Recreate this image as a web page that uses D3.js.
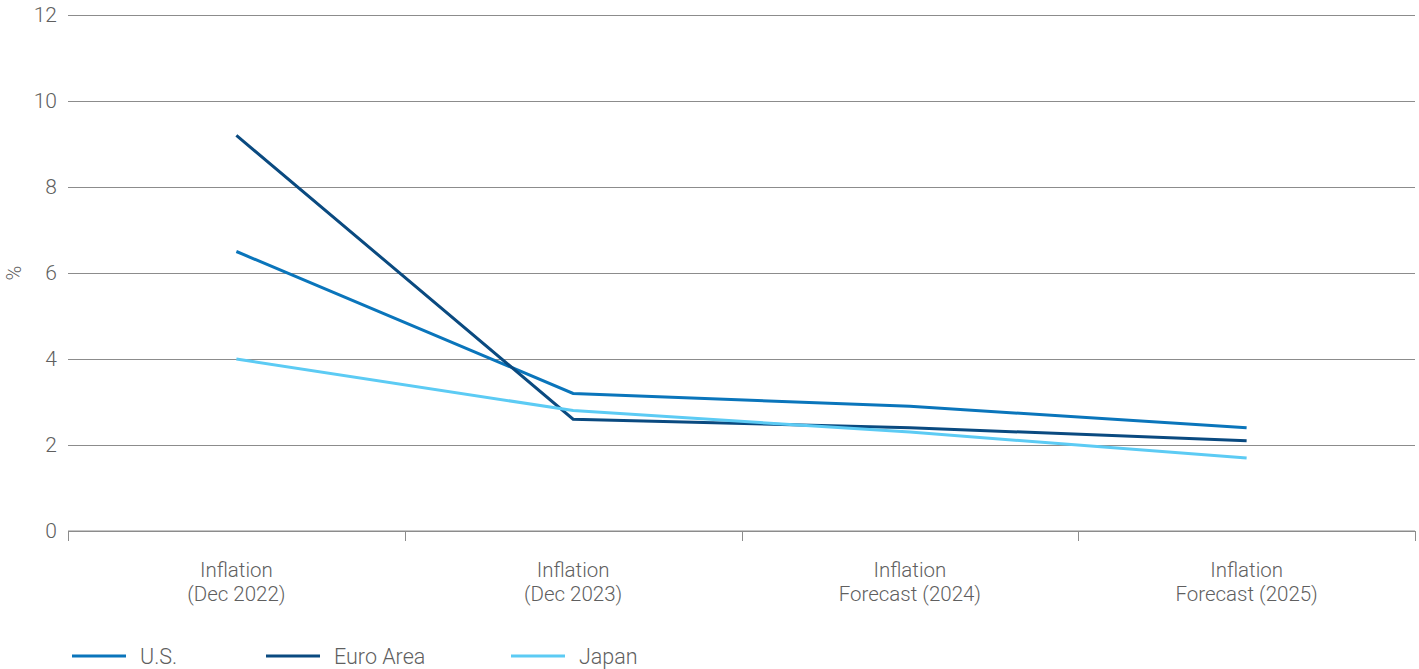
<!DOCTYPE html>
<html>
<head>
<meta charset="utf-8">
<script src="https://cdn.jsdelivr.net/npm/d3@7"></script>
<style>
  html, body { margin: 0; padding: 0; background: #fff; }
  svg { display: block; font-family: Roboto, "Noto Sans", sans-serif; font-weight: 300; }
</style>
</head>
<body>
<svg id="chart" width="1419" height="669"></svg>
<script>
// Categories (two-line labels) and inflation series, in %
const categories = [
  ["Inflation", "(Dec 2022)"],
  ["Inflation", "(Dec 2023)"],
  ["Inflation", "Forecast (2024)"],
  ["Inflation", "Forecast (2025)"]
];
const usValues = [6.5, 3.2, 2.9, 2.4];
const euroValues = [9.2, 2.6, 2.4, 2.1];
const japanValues = [4.0, 2.8, 2.3, 1.7];
const seriesNames = ["U.S.", "Euro Area", "Japan"];
const seriesColors = ["#0a75bb", "#0a4a80", "#5ccbf4"];
const yTicks = [0, 2, 4, 6, 8, 10, 12];

const series = [usValues, euroValues, japanValues].map((values, i) => ({
  name: seriesNames[i], color: seriesColors[i], values
}));

const svg = d3.select("#chart");
const margin = { left: 68, right: 4, top: 15, bottom: 138 };
const width = 1419, height = 669;

const x = d3.scaleBand()
  .domain(categories.map((c, i) => i))
  .range([margin.left, width - margin.right]);
const y = d3.scaleLinear()
  .domain([0, 12])
  .range([height - margin.bottom, margin.top]);

const textColor = "#5f5f5f";
const gridColor = "#8c8c8c";

// Horizontal gridlines with value labels
const yAxis = svg.append("g")
  .attr("transform", `translate(${margin.left},0)`)
  .call(d3.axisLeft(y).tickValues(yTicks).tickSize(-(width - margin.right - margin.left)).tickPadding(11));
yAxis.select(".domain").remove();
yAxis.selectAll(".tick line").attr("stroke", gridColor).attr("stroke-width", 1);
yAxis.selectAll(".tick text")
  .attr("fill", textColor)
  .style("font-size", "21px")
  .style("font-family", "Roboto, sans-serif")
  .style("font-weight", 300);

// Category axis along zero with boundary ticks
const x0 = y(0);
svg.append("line")
  .attr("x1", margin.left).attr("x2", width - margin.right)
  .attr("y1", x0).attr("y2", x0)
  .attr("stroke", gridColor);
const boundaries = x.domain().map(d => x(d)).concat([x.range()[1]]);
svg.selectAll(".xtick").data(boundaries).join("line")
  .attr("class", "xtick")
  .attr("x1", d => Math.round(d) + 0.5).attr("x2", d => Math.round(d) + 0.5)
  .attr("y1", x0).attr("y2", x0 + 10)
  .attr("stroke", gridColor);

const catLabels = svg.selectAll(".cat").data(categories).join("text")
  .attr("class", "cat")
  .attr("text-anchor", "middle")
  .attr("fill", textColor)
  .style("font-size", "20.5px");
catLabels.each(function(lines, i) {
  const t = d3.select(this);
  lines.forEach((ln, j) => {
    t.append("tspan")
      .attr("x", x(i) + x.bandwidth() / 2)
      .attr("y", 577 + j * 24)
      .text(ln);
  });
});

// Y axis title
svg.append("text")
  .attr("transform", `translate(21, ${y(6)}) rotate(-90)`)
  .attr("text-anchor", "middle")
  .attr("fill", textColor)
  .style("font-size", "20px")
  .text("%");

// Series lines
const line = d3.line()
  .x((d, i) => x(i) + x.bandwidth() / 2)
  .y(d => y(d));
svg.selectAll(".series").data(series).join("path")
  .attr("class", "series")
  .attr("fill", "none")
  .attr("stroke", d => d.color)
  .attr("stroke-width", 3)
  .attr("stroke-linejoin", "miter")
  .attr("d", d => line(d.values));

// Legend
const legendX = [72, 266, 511];
const legend = svg.selectAll(".legend").data(series).join("g")
  .attr("class", "legend")
  .attr("transform", (d, i) => `translate(${legendX[i]}, 656)`);
legend.append("line")
  .attr("x1", 0).attr("x2", 54)
  .attr("stroke", d => d.color)
  .attr("stroke-width", 3);
legend.append("text")
  .attr("x", 68).attr("y", 7.5)
  .attr("fill", textColor)
  .style("font-size", "21.5px")
  .text(d => d.name);
</script>
</body>
</html>
